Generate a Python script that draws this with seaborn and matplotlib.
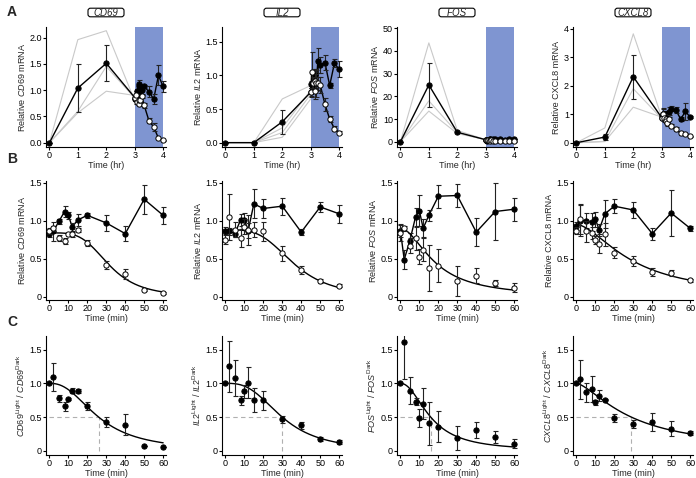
import matplotlib
matplotlib.use("Agg")
import numpy as np
import matplotlib.pyplot as plt
import seaborn as sns
from matplotlib.patches import FancyBboxPatch
from matplotlib.transforms import IdentityTransform

# ---------------- data ----------------
genes = ["CD69", "IL2", "FOS", "CXCL8"]
hours = [0, 1, 2, 3]
minutes = [0, 2, 5, 8, 10, 12, 15, 20, 30, 40, 50, 60]

# Panel A (0-3 hr): mean, error, replicates
cd69_a_mean = [0.0, 1.04, 1.51, 0.86]
cd69_a_err = [0.0, 0.46, 0.34, 0.04]
cd69_a_reps = [[0, 1.96, 2.13, 0.80], [0, 0.60, 1.45, 0.85], [0, 0.57, 0.98, 0.90]]
il2_a_mean = [0.0, 0.0, 0.31, 0.75]
il2_a_err = [0.0, 0.01, 0.18, 0.07]
il2_a_reps = [[0, 0, 0.65, 0.85], [0, 0, 0.22, 0.78], [0, 0, 0.15, 0.72], [0, 0, 0.08, 0.65]]
fos_a_mean = [0.0, 25.0, 4.2, 0.9]
fos_a_err = [0.0, 9.5, 0.3, 0.1]
fos_a_reps = [[0, 43.5, 5.0, 0.9], [0, 18.0, 4.0, 0.85], [0, 13.5, 3.6, 0.95]]
cxcl8_a_mean = [0.0, 0.20, 2.32, 0.88]
cxcl8_a_err = [0.0, 0.12, 0.78, 0.05]
cxcl8_a_reps = [[0, 0.52, 3.83, 0.9], [0, 0.05, 1.90, 0.85], [0, 0.04, 1.25, 0.9]]

# Panel B (minutes): dark (filled) and light (open)
cd69_dark = [0.83, 0.86, 0.99, 1.12, 1.07, 0.92, 1.01, 1.07, 0.97, 0.83, 1.28, 1.07]
cd69_dark_err = [0.04, 0.12, 0.03, 0.07, 0.05, 0.05, 0.08, 0.03, 0.10, 0.10, 0.19, 0.11]
cd69_light = [0.86, 0.90, 0.77, 0.73, 0.82, 0.82, 0.88, 0.71, 0.42, 0.30, 0.09, 0.05]
cd69_light_err = [0.04, 0.03, 0.04, 0.04, 0.02, 0.03, 0.03, 0.04, 0.05, 0.07, 0.01, 0.01]
il2_dark = [0.87, 0.86, 0.83, 1.01, 1.01, 0.87, 1.22, 1.16, 1.19, 0.85, 1.18, 1.09]
il2_dark_err = [0.05, 0.05, 0.05, 0.08, 0.09, 0.10, 0.19, 0.12, 0.11, 0.04, 0.06, 0.12]
il2_light = [0.75, 1.05, 0.88, 0.77, 0.92, 0.88, 0.88, 0.86, 0.57, 0.35, 0.21, 0.15]
il2_light_err = [0.06, 0.30, 0.10, 0.12, 0.10, 0.20, 0.10, 0.12, 0.10, 0.05, 0.03, 0.02]
fos_dark = [0.87, 0.49, 0.74, 1.05, 1.13, 0.90, 1.07, 1.32, 1.33, 0.85, 1.12, 1.15]
fos_dark_err = [0.08, 0.12, 0.10, 0.12, 0.20, 0.12, 0.07, 0.15, 0.15, 0.18, 0.37, 0.15]
fos_light = [0.84, 0.90, 0.67, 0.77, 0.53, 0.62, 0.38, 0.41, 0.21, 0.28, 0.18, 0.12]
fos_light_err = [0.10, 0.03, 0.10, 0.15, 0.10, 0.15, 0.30, 0.22, 0.20, 0.10, 0.04, 0.06]
cxcl8_dark = [0.93, 1.00, 1.00, 0.98, 1.02, 0.88, 1.09, 1.19, 1.14, 0.83, 1.10, 0.90]
cxcl8_dark_err = [0.05, 0.20, 0.10, 0.12, 0.10, 0.08, 0.18, 0.09, 0.10, 0.08, 0.30, 0.03]
cxcl8_light = [0.87, 1.02, 0.86, 0.84, 0.75, 0.70, 0.82, 0.58, 0.47, 0.33, 0.31, 0.22]
cxcl8_light_err = [0.05, 0.20, 0.14, 0.08, 0.05, 0.12, 0.15, 0.07, 0.07, 0.05, 0.04, 0.02]

# Panel C: light/dark ratio
cd69_ratio = [1.0, 1.09, 0.78, 0.66, 0.77, 0.89, 0.88, 0.67, 0.43, 0.39, 0.08, 0.06]
cd69_ratio_err = [0, 0.21, 0.05, 0.07, 0.02, 0.04, 0.03, 0.06, 0.07, 0.15, 0.0, 0.0]
il2_ratio = [1.0, 1.25, 1.08, 0.75, 0.88, 1.01, 0.75, 0.75, 0.47, 0.38, 0.18, 0.13]
il2_ratio_err = [0, 0.38, 0.27, 0.07, 0.10, 0.23, 0.18, 0.14, 0.05, 0.05, 0.03, 0.03]
fos_ratio = [1.0, 1.61, 0.89, 0.73, 0.49, 0.70, 0.41, 0.36, 0.19, 0.31, 0.21, 0.11]
fos_ratio_err = [0, 0.55, 0.20, 0.05, 0.13, 0.23, 0.32, 0.23, 0.18, 0.12, 0.09, 0.07]
cxcl8_ratio = [1.0, 1.06, 0.87, 0.92, 0.72, 0.82, 0.76, 0.49, 0.40, 0.43, 0.33, 0.26]
cxcl8_ratio_err = [0, 0.29, 0.14, 0.19, 0.04, 0.08, 0.01, 0.06, 0.06, 0.13, 0.11, 0.03]

# fitted decay model parameters (top, t50, hill n)
fit_b_top = [0.84, 0.88, 0.90, 0.95]
fit_b_t50 = [31.5, 36.0, 18.5, 29.6]
fit_b_n = [3.85, 3.57, 1.87, 1.7]
fit_c_t50 = [26.0, 30.0, 16.0, 29.0]
fit_c_n = [2.38, 2.87, 2.1, 1.5]

# y axis settings for panel A
a_ylim = [(-0.08, 2.2), (-0.065, 1.72), (-2.3, 50.5), (-0.15, 4.07)]
a_yticks = [[0, 0.5, 1.0, 1.5, 2.0], [0, 0.5, 1.0, 1.5], [0, 10, 20, 30, 40, 50], [0, 1, 2, 3, 4]]
a_yticklabels = [["0.0", "0.5", "1.0", "1.5", "2.0"], ["0.0", "0.5", "1.0", "1.5"],
                 ["0", "10", "20", "30", "40", "50"], ["0", "1", "2", "3", "4"]]

# ---------------- style ----------------
W, H = 696, 478
sns.set_theme(style="ticks")
plt.rcParams["font.family"] = ["Liberation Sans", "DejaVu Sans"]
plt.rcParams["mathtext.fontset"] = "custom"
plt.rcParams["mathtext.it"] = "Liberation Sans:italic"
plt.rcParams["mathtext.rm"] = "Liberation Sans"
plt.rcParams["mathtext.bf"] = "Liberation Sans:bold"
FS = 6.5
BLUE = "#7f95d1"
GRAY = "#c9c9c9"
MS = 3.8

fig = plt.figure(figsize=(W / 100, H / 100), dpi=100)

col_left = [46, 222, 397, 573]
ax_w = 120
rows = {"A": (27, 147), "B": (181, 300), "C": (336, 455)}


def make_ax(col, row):
    top, bot = rows[row]
    ax = fig.add_axes([col_left[col] / W, 1 - bot / H, ax_w / W, (bot - top) / H])
    sns.despine(ax=ax)
    for s in ["left", "bottom"]:
        ax.spines[s].set_linewidth(0.8)
        ax.spines[s].set_color("black")
    ax.tick_params(length=2, width=0.8, labelsize=FS, pad=1, colors="black")
    ax.set_facecolor("none")
    return ax


def hill(t, top, t50, n):
    t = np.asarray(t, float)
    return top / (1 + (t / t50) ** n)


def series(ax, x, y, err, filled=True, line=True, z=3):
    if line:
        sns.lineplot(x=x, y=y, color="black", lw=1.0, ax=ax, estimator=None,
                     sort=False, zorder=z)
    ax.errorbar(x, y, yerr=err, fmt="none", ecolor="#222222", elinewidth=0.8,
                capsize=1.8, capthick=0.8, zorder=z)
    sns.scatterplot(x=x, y=y, ax=ax, s=MS ** 2, marker="o",
                    color="black" if filled else "white",
                    edgecolor="black", linewidth=0.7, zorder=z + 1, legend=False)


a_means = [cd69_a_mean, il2_a_mean, fos_a_mean, cxcl8_a_mean]
a_errs = [cd69_a_err, il2_a_err, fos_a_err, cxcl8_a_err]
a_reps = [cd69_a_reps, il2_a_reps, fos_a_reps, cxcl8_a_reps]
darks = [cd69_dark, il2_dark, fos_dark, cxcl8_dark]
dark_errs = [cd69_dark_err, il2_dark_err, fos_dark_err, cxcl8_dark_err]
lights = [cd69_light, il2_light, fos_light, cxcl8_light]
light_errs = [cd69_light_err, il2_light_err, fos_light_err, cxcl8_light_err]
ratios = [cd69_ratio, il2_ratio, fos_ratio, cxcl8_ratio]
ratio_errs = [cd69_ratio_err, il2_ratio_err, fos_ratio_err, cxcl8_ratio_err]


def gene_label(g):
    if g == "CXCL8":
        return "CXCL8"
    return r"$\mathit{%s}$" % g


x_after = [3 + m / 60 for m in minutes]
t_fit = np.linspace(0, 60, 300)

for i, g in enumerate(genes):
    # ---- panel A ----
    ax = make_ax(i, "A")
    ax.axvspan(3, 4, color=BLUE, lw=0, zorder=0)
    for rep in a_reps[i]:
        sns.lineplot(x=hours, y=rep, color=GRAY, lw=0.8, ax=ax, estimator=None,
                     sort=False, zorder=1)
    series(ax, hours, a_means[i], a_errs[i], filled=True)
    series(ax, x_after, darks[i], dark_errs[i], filled=True, z=3)
    series(ax, x_after, lights[i], light_errs[i], filled=False, z=5)
    ax.set_xlim(-0.12, 4.1)
    ax.set_xticks([0, 1, 2, 3, 4])
    ax.set_ylim(*a_ylim[i])
    ax.set_yticks(a_yticks[i])
    ax.set_yticklabels(a_yticklabels[i])
    ax.set_xlabel("Time (hr)", fontsize=FS, labelpad=0.5)
    ax.set_ylabel("Relative %s mRNA" % gene_label(g), fontsize=FS, labelpad=2)

    # title box
    cx = col_left[i] + ax_w / 2
    cy = H - 12.5
    box = FancyBboxPatch((cx - 18, cy - 4.3), 36, 8.6,
                         boxstyle="round,pad=0,rounding_size=2.5",
                         transform=IdentityTransform(), fc="white", ec="black", lw=0.8)
    fig.patches.append(box)
    fig.text(cx / W, cy / H, g, ha="center", va="center", fontsize=FS + 0.5,
             fontstyle="italic")

    # ---- panel B ----
    ax = make_ax(i, "B")
    series(ax, minutes, darks[i], dark_errs[i], filled=True)
    sns.lineplot(x=t_fit, y=hill(t_fit, fit_b_top[i], fit_b_t50[i], fit_b_n[i]),
                 color="black", lw=1.0, ax=ax, zorder=4)
    series(ax, minutes, lights[i], light_errs[i], filled=False, line=False, z=5)
    ax.set_xlim(-1.8, 61.5)
    ax.set_xticks(range(0, 61, 10))
    ax.set_ylim(-0.04, 1.52)
    ax.set_yticks([0, 0.5, 1.0, 1.5])
    ax.set_yticklabels(["0", "0.5", "1.0", "1.5"])
    ax.set_xlabel("Time (min)", fontsize=FS, labelpad=0.5)
    ax.set_ylabel("Relative %s mRNA" % gene_label(g), fontsize=FS, labelpad=2)

    # ---- panel C ----
    ax = make_ax(i, "C")
    t50 = fit_c_t50[i]
    ax.plot([0, t50], [0.5, 0.5], ls=(0, (4, 3)), color="#b0b0b0", lw=0.8, zorder=1)
    ax.plot([t50, t50], [0, 0.5], ls=(0, (4, 3)), color="#b0b0b0", lw=0.8, zorder=1)
    sns.lineplot(x=t_fit, y=hill(t_fit, 1.0, t50, fit_c_n[i]), color="black",
                 lw=1.0, ax=ax, zorder=2)
    series(ax, minutes, ratios[i], ratio_errs[i], filled=True, line=False)
    ax.set_xlim(-1.8, 61.5)
    ax.set_xticks(range(0, 61, 10))
    ax.set_ylim(-0.06, 1.70)
    ax.set_yticks([0, 0.5, 1.0, 1.5])
    ax.set_yticklabels(["0", "0.5", "1.0", "1.5"])
    ax.set_xlabel("Time (min)", fontsize=FS, labelpad=0.5)
    ax.set_ylabel(r"$\mathit{%s}^{\mathrm{Light}}$ / $\mathit{%s}^{\mathrm{Dark}}$" % (g, g),
                  fontsize=FS, labelpad=2)

for letter, ypx in [("A", 12), ("B", 159), ("C", 322)]:
    fig.text(7 / W, 1 - ypx / H, letter, fontsize=10, fontweight="bold",
             ha="left", va="center")

fig.savefig("out.png", dpi=100)
